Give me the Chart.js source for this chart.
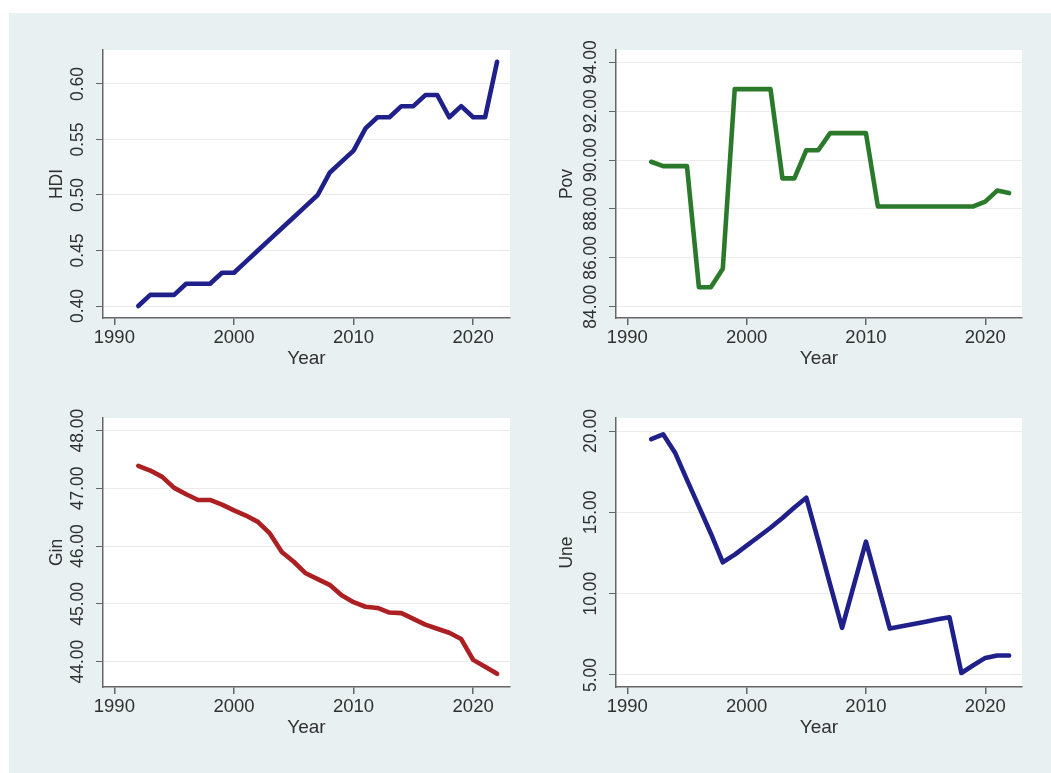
<!DOCTYPE html>
<html>
<head>
<meta charset="utf-8">
<script src="https://cdn.jsdelivr.net/npm/chart.js@4/dist/chart.umd.min.js"></script>
<style>
  html, body { margin: 0; padding: 0; background: #ffffff; }
  #wrap { position: relative; width: 1051px; height: 773px; overflow: hidden; }
  #bg { position: absolute; left: 9px; top: 13px; right: 0; bottom: 0; background: #e8f0f2; }
  canvas { position: absolute; left: 0; top: 0; }
</style>
</head>
<body>
<div id="wrap">
  <div id="bg"></div>
  <canvas id="cHdi" width="1051" height="773"></canvas>
  <canvas id="cPov" width="1051" height="773"></canvas>
  <canvas id="cGin" width="1051" height="773"></canvas>
  <canvas id="cUne" width="1051" height="773"></canvas>
</div>
<script>
// ---- data ----
const years = [1992, 1993, 1994, 1995, 1996, 1997, 1998, 1999, 2000, 2001, 2002,
               2003, 2004, 2005, 2006, 2007, 2008, 2009, 2010, 2011, 2012,
               2013, 2014, 2015, 2016, 2017, 2018, 2019, 2020, 2021, 2022];

const hdi = [0.40, 0.41, 0.41, 0.41, 0.42, 0.42, 0.42, 0.43, 0.43, 0.44, 0.45,
             0.46, 0.47, 0.48, 0.49, 0.50, 0.52, 0.53, 0.54, 0.56, 0.57,
             0.57, 0.58, 0.58, 0.59, 0.59, 0.57, 0.58, 0.57, 0.57, 0.62];

const pov = [89.93, 89.75, 89.75, 89.75, 84.8, 84.8, 85.55, 92.9, 92.9, 92.9, 92.9,
             89.25, 89.25, 90.4, 90.4, 91.1, 91.1, 91.1, 91.1, 88.1, 88.1,
             88.1, 88.1, 88.1, 88.1, 88.1, 88.1, 88.1, 88.3, 88.75, 88.65];

const gin = [47.39, 47.31, 47.2, 47.01, 46.9, 46.8, 46.8, 46.72, 46.62, 46.53, 46.42,
             46.22, 45.9, 45.73, 45.53, 45.43, 45.33, 45.15, 45.03, 44.95, 44.93,
             44.85, 44.84, 44.74, 44.64, 44.57, 44.5, 44.39, 44.03, 43.91, 43.79];

const une = [19.5, 19.8, 18.67, 17.0, 15.35, 13.7, 11.93, 12.4, 12.95, 13.5, 14.05,
             14.65, 15.3, 15.9, 13.26, 10.55, 7.9, 10.55, 13.2, 10.53, 7.85,
             7.99, 8.13, 8.27, 8.42, 8.55, 5.12, 5.6, 6.05, 6.2, 6.2];

const xTicks = [1990, 2000, 2010, 2020];
const hdiTicks = [0.40, 0.45, 0.50, 0.55, 0.60];
const hdiTickLabels = ['0.40', '0.45', '0.50', '0.55', '0.60'];
const povTicks = [84, 86, 88, 90, 92, 94];
const povTickLabels = ['84.00', '86.00', '88.00', '90.00', '92.00', '94.00'];
const ginTicks = [44, 45, 46, 47, 48];
const ginTickLabels = ['44.00', '45.00', '46.00', '47.00', '48.00'];
const uneTicks = [5, 10, 15, 20];
const uneTickLabels = ['5.00', '10.00', '15.00', '20.00'];

// ---- shared style ----
const W = 1051, H = 773;
const FONT = '"Liberation Sans", Arial, Helvetica, sans-serif';
const TEXT = '#303030';
const AXIS = '#666666';
const GRID = '#ebebeb';
const X_BOX = 50;   // height of the x-axis box (ticks, labels, title)

// white plot region
const plotBg = {
  id: 'plotBg',
  beforeDraw(chart) {
    const a = chart.chartArea, ctx = chart.ctx;
    ctx.save();
    ctx.fillStyle = '#ffffff';
    ctx.fillRect(a.left, a.top, a.right - a.left, a.bottom - a.top);
    ctx.restore();
  }
};

// vertical (rotated) y tick labels, centred on each tick
const yTickText = {
  id: 'yTickText',
  afterDraw(chart, args, opts) {
    const s = chart.scales.y, ctx = chart.ctx;
    ctx.save();
    ctx.font = opts.size + 'px ' + FONT;
    ctx.fillStyle = TEXT;
    ctx.textAlign = 'center';
    ctx.textBaseline = 'middle';
    opts.values.forEach((v, i) => {
      const py = s.getPixelForValue(v);
      ctx.save();
      ctx.translate(s.right - opts.offset, py);
      ctx.rotate(-Math.PI / 2);
      ctx.fillText(opts.labels[i], 0, 0);
      ctx.restore();
    });
    ctx.restore();
  }
};

function makePanel(id, p) {
  const yBox = p.titleGap + 9;
  new Chart(document.getElementById(id), {
    type: 'line',
    data: {
      datasets: [{
        data: years.map((yr, i) => ({ x: yr, y: p.values[i] })),
        borderColor: p.color,
        borderWidth: 4.6,
        pointRadius: 0,
        tension: 0,
        borderJoinStyle: 'round',
        borderCapStyle: 'round',
        fill: false
      }]
    },
    options: {
      responsive: false,
      animation: false,
      events: [],
      layout: {
        padding: {
          left: p.area.left - yBox,
          top: p.area.top,
          right: W - p.area.right,
          bottom: H - p.area.bottom - X_BOX
        }
      },
      plugins: {
        legend: { display: false },
        tooltip: { enabled: false },
        yTickText: { values: p.ticks, labels: p.tickLabels, offset: 25, size: 17.5 }
      },
      scales: {
        x: {
          type: 'linear',
          min: 1989.05,
          max: 2023.08,
          afterBuildTicks: s => { s.ticks = xTicks.map(v => ({ value: v })); },
          afterFit: s => { s.height = X_BOX; },
          grid: { drawOnChartArea: false, drawTicks: true, tickLength: 7, tickColor: AXIS, lineWidth: 1.5 },
          border: { display: true, color: AXIS, width: 1.5 },
          ticks: { font: { family: FONT, size: 18.5 }, color: TEXT, padding: 2, callback: v => String(v) },
          title: { display: true, text: 'Year', color: TEXT, font: { family: FONT, size: 19, lineHeight: 1 }, padding: 0 }
        },
        y: {
          type: 'linear',
          min: p.min,
          max: p.max,
          afterBuildTicks: s => { s.ticks = p.ticks.map(v => ({ value: v })); },
          afterFit: s => { s.width = yBox; },
          grid: { color: GRID, lineWidth: 1, drawTicks: true, tickLength: 7, tickColor: AXIS },
          border: { display: true, color: AXIS, width: 1.5 },
          ticks: { display: false },
          title: { display: true, text: p.title, color: TEXT, font: { family: FONT, size: 17.5, lineHeight: 1 }, padding: 0 }
        }
      }
    },
    plugins: [plotBg, yTickText]
  });
}

makePanel('cHdi', {
  values: hdi, title: 'HDI', color: '#20208a',
  ticks: hdiTicks, tickLabels: hdiTickLabels, min: 0.3892, max: 0.6306,
  area: { left: 103, top: 50, right: 510, bottom: 318 }, titleGap: 46
});
makePanel('cPov', {
  values: pov, title: 'Pov', color: '#2b7a2b',
  ticks: povTicks, tickLabels: povTickLabels, min: 83.54, max: 94.5,
  area: { left: 616, top: 50, right: 1022, bottom: 318 }, titleGap: 49
});
makePanel('cGin', {
  values: gin, title: 'Gin', color: '#ac1f22',
  ticks: ginTicks, tickLabels: ginTickLabels, min: 43.56, max: 48.22,
  area: { left: 103, top: 418, right: 510, bottom: 687 }, titleGap: 46
});
makePanel('cUne', {
  values: une, title: 'Une', color: '#20208a',
  ticks: uneTicks, tickLabels: uneTickLabels, min: 4.26, max: 20.8,
  area: { left: 616, top: 418, right: 1022, bottom: 687 }, titleGap: 49
});
</script>
</body>
</html>
